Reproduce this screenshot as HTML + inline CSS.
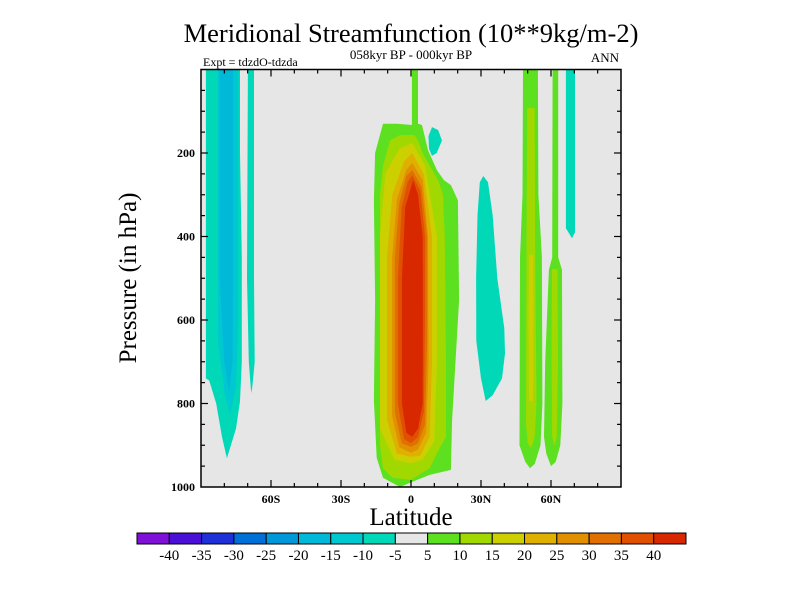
<!DOCTYPE html>
<html><head><meta charset="utf-8"><style>
html,body{margin:0;padding:0;background:#fff;}
svg text{font-family:"Liberation Serif",serif;fill:#000;}
</style></head><body>
<svg id="chart" width="800" height="600" xmlns="http://www.w3.org/2000/svg">
<text x="411" y="42" font-size="26.5" text-anchor="middle">Meridional Streamfunction (10**9kg/m-2)</text>
<text x="411" y="59" font-size="13" text-anchor="middle">058kyr BP - 000kyr BP</text>
<text x="203" y="66" font-size="12">Expt = tdzdO-tdzda</text>
<text x="619" y="62" font-size="13" text-anchor="end">ANN</text>
<text transform="translate(136,278) rotate(-90)" font-size="25" text-anchor="middle">Pressure (in hPa)</text>
<text x="411" y="525" font-size="25" text-anchor="middle">Latitude</text>
<g id="plot"></g>
<g id="axes"></g>
<g id="cbar"></g>
</svg>
<script>
const levels=[-40,-35,-30,-25,-20,-15,-10,-5,5,10,15,20,25,30,35,40];
const colors=["#7f10d8","#4a10d8","#1e30d8","#0070d8","#0098d8","#00b8d8","#00c8d0","#00d8b8","#e6e6e6","#5ce020","#a0d800","#ccd000","#e0b000","#e09000","#e07000","#e05000","#d82800"];
const xTickVals=[-60,-30,0,30,60];
const xTickLabels=["60S","30S","0","30N","60N"];
const yTickVals=[200,400,600,800,1000];
// contour regions (drawn in order): value of region, outline in [lat, pressure]
const contourValues=[-7,-7,-12,-17,-7,-7,7,7,12,12,17,-7,7,12,17,22,27,32,37,42];
const contourPolys=[
 [[-87.9,0],[-73.3,0],[-73.3,200],[-72.5,450],[-72.5,700],[-73.3,795],[-75,860],[-78.9,931],[-81,880],[-83.5,800],[-86.5,745],[-87.9,740]],
 [[-69.9,0],[-67.3,0],[-67.3,500],[-67,700],[-68,760],[-68.5,775],[-69.5,700],[-70.3,500]],
 [[-82.7,0],[-74,0],[-74,600],[-75,760],[-77.5,828],[-80,770],[-82.7,650]],
 [[-82,0],[-76.3,0],[-76.3,500],[-76.5,700],[-78,772],[-80,700],[-82,500]],
 [[9,138],[11.6,145],[13.3,170],[11,200],[9,207],[7.7,190],[7.5,160]],
 [[31,255],[33,270],[35,350],[37,500],[40,620],[40.3,680],[39,740],[35,780],[32,794],[30,740],[28,650],[27.9,500],[28.5,350],[29.5,270]],
 [[48,0],[54.4,0],[54.6,300],[56.1,450],[56.3,800],[55.5,900],[53,945],[51,955],[49,940],[46.5,900],[46.7,450],[47.8,300]],
 [[60.7,0],[63.1,0],[63.1,450],[64.7,480],[64.9,800],[64,900],[62,940],[60,950],[58,920],[57,880],[57.5,700],[59.1,480],[60.5,450]],
 [[49.8,92],[53,92],[53.2,400],[53.8,800],[53,880],[51.5,907],[50,895],[49.3,850],[49.5,400]],
 [[60.4,478],[62.8,478],[63,700],[62.5,880],[61.5,902],[60.5,880],[60.2,700]],
 [[50.6,444],[52.3,444],[52.5,600],[52.3,794],[50.6,794],[50.4,600]],
 [[66.4,0],[70.3,0],[70.3,390],[69,404],[66.4,380]],
 [[-12,130],[-6,130],[0.4,133],[0.4,0],[3,0],[3,130],[4.7,133],[7.3,193],[11.1,241],[14.1,265],[17.1,277],[20.1,313],[20.6,552],[17.6,840],[17.1,959],[8,971],[0.4,988],[-4.7,1000],[-12,978],[-14.7,930],[-15.9,792],[-15.4,552],[-15.9,313],[-15.4,200]],
 [[-4.7,157],[1.5,157],[3,170],[5,200],[8,230],[11.6,265],[13.7,300],[14.5,400],[15,700],[15,880],[12,910],[8,955],[0,983],[-8,978],[-12,955],[-13.3,900],[-13.3,700],[-13.3,300],[-12,230],[-9,170]],
 [[0.5,176],[6,230],[11.1,400],[11.1,700],[10,890],[5,935],[0,943],[-7,935],[-13.3,860],[-13.3,400],[-11,250],[-5,190]],
 [[0.5,200],[5.5,250],[9,400],[9,700],[8,880],[4,925],[0,928],[-6,920],[-10.3,840],[-10.3,450],[-8,300],[-3,220]],
 [[0.5,224],[5,265],[7.3,400],[7.5,700],[6.5,870],[3,910],[0,918],[-5,905],[-8.1,830],[-8.1,450],[-6,310],[-2,240]],
 [[0.5,241],[4.5,280],[6.9,400],[6.9,650],[6,850],[3,895],[0,904],[-4,895],[-6.9,820],[-6.9,450],[-5,320],[-2,255]],
 [[0.5,253],[4,290],[6,400],[6,600],[5.5,820],[3,880],[0,895],[-3,885],[-5.6,800],[-5.6,500],[-4,330],[-1.5,270]],
 [[0.9,265],[3,300],[5,400],[5.1,600],[5,800],[3,860],[0.5,880],[-2,870],[-3.9,800],[-3.9,500],[-2.5,330]]
];
const X0=201,X1=621,Y0=69.5,Y1=487;
const xS=lat=>X0+(lat+90)*(X1-X0)/180;
const yS=p=>Y0+p*(Y1-Y0)/1000;
function colorFor(v){let i=0;while(i<levels.length&&v>levels[i])i++;if(v>-5&&v<5)return colors[8];return colors[i];}
const NS="http://www.w3.org/2000/svg";
function mk(tag,attrs,parent){const e=document.createElementNS(NS,tag);for(const k in attrs)e.setAttribute(k,attrs[k]);parent.appendChild(e);return e;}
const plot=document.getElementById('plot');
const bg=mk('rect',{x:X0,y:Y0,width:X1-X0,height:Y1-Y0,fill:"#e6e6e6"},plot);


const clip=mk('clipPath',{id:'pc'},plot);mk('rect',{x:X0,y:Y0,width:X1-X0,height:Y1-Y0},clip);
const cg=mk('g',{'clip-path':'url(#pc)'},plot);
contourPolys.forEach((poly,i)=>{
 const pts=poly.map(p=>xS(p[0]).toFixed(1)+","+yS(p[1]).toFixed(1)).join(" ");
 const pg=mk('polygon',{points:pts,fill:colorFor(contourValues[i])},cg);
 
 
});
const ax=document.getElementById('axes');
const fr=mk('rect',{x:X0,y:Y0,width:X1-X0,height:Y1-Y0,fill:"none",stroke:"#000","stroke-width":1.5},ax);


for(let lat=-80;lat<=80;lat+=10){const L=(lat%30===0)?7:4;const x=xS(lat);
 mk('line',{x1:x,y1:Y1,x2:x,y2:Y1-L,stroke:"#000","stroke-width":1.2},ax);
 mk('line',{x1:x,y1:Y0,x2:x,y2:Y0+L,stroke:"#000","stroke-width":1.2},ax);}
for(let p=50;p<1000;p+=50){const L=(p%200===0)?7:4;const y=yS(p);
 mk('line',{x1:X0,y1:y,x2:X0+L,y2:y,stroke:"#000","stroke-width":1.2},ax);
 mk('line',{x1:X1,y1:y,x2:X1-L,y2:y,stroke:"#000","stroke-width":1.2},ax);}
xTickVals.forEach((v,i)=>{const t=mk('text',{x:xS(v),y:503,'font-size':12,'text-anchor':'middle','font-weight':'bold'},ax);t.textContent=xTickLabels[i];
 
 });
yTickVals.forEach(v=>{const t=mk('text',{x:195,y:yS(v)+4,'font-size':12,'text-anchor':'end','font-weight':'bold'},ax);t.textContent=v;
 
 });
const cb=document.getElementById('cbar');
const cbx=137,cbw=549,cby=533,cbh=11,bw=cbw/colors.length;
colors.forEach((c,i)=>{const r=mk('rect',{x:cbx+i*bw,y:cby,width:bw,height:cbh,fill:c,stroke:"#000","stroke-width":1},cb);
 
 });
levels.forEach((v,i)=>{const t=mk('text',{x:cbx+(i+1)*bw,y:560,'font-size':15,'text-anchor':'middle'},cb);t.textContent=v;
 
 });
</script>
</body></html>
